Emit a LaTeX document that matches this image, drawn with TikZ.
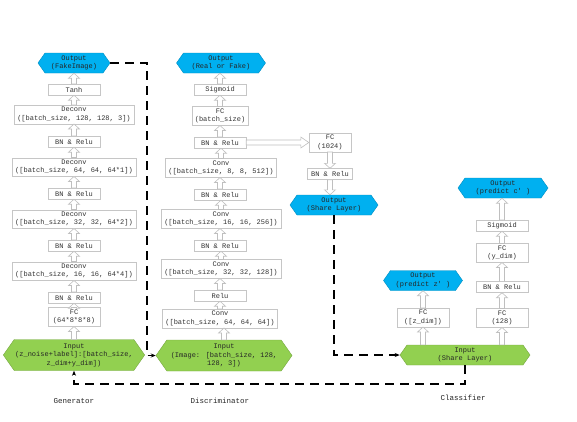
\documentclass[tikz,border=0pt]{standalone}
\usepackage{fontspec}
\newfontfamily\boxfont{Liberation Mono}
\usepackage{tikz}
\usetikzlibrary{shapes}
\usetikzlibrary{shapes.symbols}
\usetikzlibrary{arrows.meta}
\usetikzlibrary{calc}
\definecolor{outblue}{HTML}{00B0F0}
\definecolor{ingreen}{HTML}{92D050}
\tikzset{ layer/.style = {rectangle, draw=gray!45, fill=white, align=center, text=black!80, font=\boxfont\fontsize{7}{8.5}\selectfont, inner xsep=3pt, inner ysep=2pt, minimum width=52pt, minimum height=11pt} }
\tikzset{ hexout/.style = {signal, signal to=east and west, signal pointer angle=110, fill=outblue, draw=outblue!80!black, align=center, text=black!85, font=\boxfont\fontsize{7}{8.5}\selectfont, inner sep=1pt, minimum height=20pt} }
\tikzset{ hexin/.style = {hexout, fill=ingreen, draw=ingreen!80!black} }
\tikzset{ hollow/.style = {draw=gray!50, line width=0.6pt, fill=white, line join=miter} }
\tikzset{ link/.style = {line width=1.2pt, dash pattern=on 9pt off 6pt, -{Stealth[length=5pt, width=4pt]}} }
\tikzset{ caption/.style = {font=\boxfont\fontsize{7.5}{9}\selectfont, text=black!85} }
% hollow block arrows between layers
\newcommand{\hollowup}[2]{\draw [style=hollow] let \p1=(#1), \p2=(#2) in
    (\x1-2.5pt,\y1) -- (\x1-2.5pt,\y2-5pt) -- (\x1-5.5pt,\y2-5pt) -- (\x1,\y2)
    -- (\x1+5.5pt,\y2-5pt) -- (\x1+2.5pt,\y2-5pt) -- (\x1+2.5pt,\y1) -- cycle;}
\newcommand{\hollowdown}[2]{\draw [style=hollow] let \p1=(#1), \p2=(#2) in
    (\x1-2.5pt,\y1) -- (\x1-2.5pt,\y2+5pt) -- (\x1-5.5pt,\y2+5pt) -- (\x1,\y2)
    -- (\x1+5.5pt,\y2+5pt) -- (\x1+2.5pt,\y2+5pt) -- (\x1+2.5pt,\y1) -- cycle;}
\newcommand{\hollowright}[2]{\draw [style=hollow] let \p1=(#1), \p2=(#2) in
    (\x1,\y1-2.5pt) -- (\x2-8pt,\y1-2.5pt) -- (\x2-8pt,\y1-5.5pt) -- (\x2,\y1)
    -- (\x2-8pt,\y1+5.5pt) -- (\x2-8pt,\y1+2.5pt) -- (\x1,\y1+2.5pt) -- cycle;}

\begin{document}
\begin{tikzpicture}[x=1pt,y=-1pt]
            \useasboundingbox (0,0) rectangle (577,421);
            % generator
            \node [style=hexout, minimum width=72pt] (genout) at (74,63) {Output\\(FakeImage)};
            \node [style=layer] (tanh) at (74,89.5) {Tanh};
            \node [style=layer] (dc128) at (74,114.5) {Deconv\\([batch\_size, 128, 128, 3])};
            \node [style=layer] (gbn4) at (74,141.5) {BN \& Relu};
            \node [style=layer] (dc64) at (74,167) {Deconv\\([batch\_size, 64, 64, 64*1])};
            \node [style=layer] (gbn3) at (74,193.5) {BN \& Relu};
            \node [style=layer] (dc32) at (74,219) {Deconv\\([batch\_size, 32, 32, 64*2])};
            \node [style=layer] (gbn2) at (74,245.5) {BN \& Relu};
            \node [style=layer] (dc16) at (74,271) {Deconv\\([batch\_size, 16, 16, 64*4])};
            \node [style=layer] (gbn1) at (74,297.5) {BN \& Relu};
            \node [style=layer] (gfc) at (74,317) {FC\\(64*8*8*8)};
            \node [style=hexin, minimum width=132pt, minimum height=31pt] (genin) at (74,355) {Input\\(z\_noise+label]:[batch\_size,\\z\_dim+y\_dim])};
            \node [style=caption] (gencap) at (74,401) {Generator};
            \hollowup{genin.north}{gfc.south}
            \hollowup{gfc.north}{gbn1.south}
            \hollowup{gbn1.north}{dc16.south}
            \hollowup{dc16.north}{gbn2.south}
            \hollowup{gbn2.north}{dc32.south}
            \hollowup{dc32.north}{gbn3.south}
            \hollowup{gbn3.north}{dc64.south}
            \hollowup{dc64.north}{gbn4.south}
            \hollowup{gbn4.north}{dc128.south}
            \hollowup{dc128.north}{tanh.south}
            \hollowup{tanh.north}{genout.south}
            % discriminator
            \node [style=hexout, minimum width=89pt] (dout) at (221,63) {Output\\(Real or Fake)};
            \node [style=layer] (dsig) at (220,89.5) {Sigmoid};
            \node [style=layer] (dfc) at (220,116) {FC\\(batch\_size)};
            \node [style=layer] (dbn4) at (220,142.5) {BN \& Relu};
            \node [style=layer] (cv8) at (221,168) {Conv\\([batch\_size, 8, 8, 512])};
            \node [style=layer] (dbn3) at (220,194.5) {BN \& Relu};
            \node [style=layer] (cv16) at (221,219) {Conv\\([batch\_size, 16, 16, 256])};
            \node [style=layer] (dbn2) at (220,245.5) {BN \& Relu};
            \node [style=layer] (cv32) at (221,269) {Conv\\([batch\_size, 32, 32, 128])};
            \node [style=layer] (drelu) at (220,295.5) {Relu};
            \node [style=layer] (cv64) at (220,318.5) {Conv\\([batch\_size, 64, 64, 64])};
            \node [style=hexin, minimum width=136pt, minimum height=31pt] (discin) at (224,355.5) {Input\\(Image: [batch\_size, 128,\\128, 3])};
            \node [style=caption] (disccap) at (220,401) {Discriminator};
            \hollowup{discin.north}{cv64.south}
            \hollowup{cv64.north}{drelu.south}
            \hollowup{drelu.north}{cv32.south}
            \hollowup{cv32.north}{dbn2.south}
            \hollowup{dbn2.north}{cv16.south}
            \hollowup{cv16.north}{dbn3.south}
            \hollowup{dbn3.north}{cv8.south}
            \hollowup{cv8.north}{dbn4.south}
            \hollowup{dbn4.north}{dfc.south}
            \hollowup{dfc.north}{dsig.south}
            \hollowup{dsig.north}{dout.south}
            % shared layer
            \node [style=layer, minimum width=42pt] (fc1024) at (330,142.5) {FC\\(1024)};
            \node [style=layer, minimum width=45pt] (sbn) at (330,174) {BN \& Relu};
            \node [style=hexout, minimum width=88pt] (shareout) at (334,205) {Output\\(Share Layer)};
            \hollowright{dbn4.east}{fc1024.west}
            \hollowdown{fc1024.south}{sbn.north}
            \hollowdown{sbn.south}{shareout.north}
            % classifier
            \node [style=hexin, minimum width=130pt] (classin) at (465,355) {Input\\(Share Layer)};
            \node [style=layer] (fcz) at (423,317.5) {FC\\([z\_dim])};
            \node [style=hexout, minimum width=79pt] (zout) at (423,280.5) {Output\\(predict z' )};
            \node [style=layer] (fc128) at (502,318) {FC\\(128)};
            \node [style=layer] (cbn) at (502,287) {BN \& Relu};
            \node [style=layer] (fcy) at (502,253) {FC\\(y\_dim)};
            \node [style=layer] (csig) at (502,225.5) {Sigmoid};
            \node [style=hexout, minimum width=90pt] (cout) at (503,188) {Output\\(predict c' )};
            \node [style=caption] (classcap) at (463,398) {Classifier};
            \hollowup{$(classin.north)+(-42,0)$}{fcz.south}
            \hollowup{fcz.north}{zout.south}
            \hollowup{$(classin.north)+(37,0)$}{fc128.south}
            \hollowup{fc128.north}{cbn.south}
            \hollowup{cbn.north}{fcy.south}
            \hollowup{fcy.north}{csig.south}
            \hollowup{csig.north}{cout.south}
            % dashed links
            \coordinate (g2d) at (147,355.5);
            \coordinate (back) at (465,384);
            \draw [style=link] (genout.east) -| (g2d) -- (discin.west);
            \draw [style=link] (shareout.south) |- (classin.west);
            \draw [style=link] (classin.south) -- (back) -| (genin.south);
       \end{tikzpicture}
\end{document}
